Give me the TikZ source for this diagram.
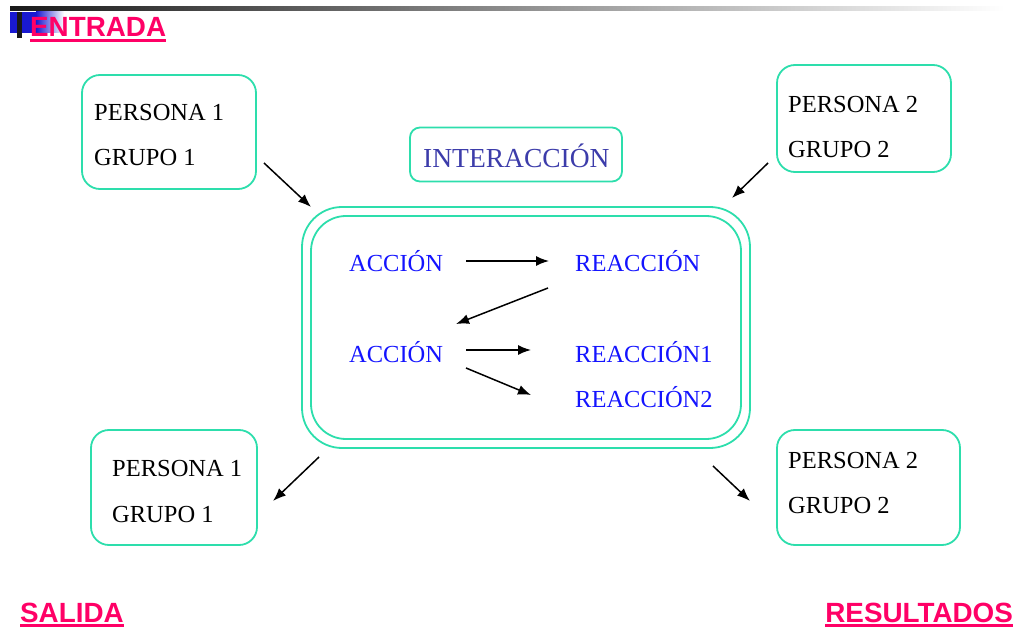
\documentclass[tikz,border=0pt]{standalone}
\usepackage{fontspec}
\setmainfont{Liberation Serif}
\newfontfamily\headfont{Liberation Sans}
\usetikzlibrary{arrows.meta}
\definecolor{teal1}{RGB}{45,222,172}
\definecolor{hred}{RGB}{255,0,102}
\definecolor{ablue}{RGB}{20,20,255}
\definecolor{iblue}{RGB}{60,60,170}
\tikzset{
  box/.style={draw=teal1, line width=1.8pt, rounded corners=18pt, inner sep=0pt},
  txt/.style={anchor=base west, inner sep=0pt, font=\fontsize{24.5}{28}\selectfont},
  btxt/.style={txt, text=ablue},
  head/.style={anchor=base west, inner sep=0pt, text=hred, font=\headfont\bfseries\fontsize{27.8}{30}\selectfont},
  uline/.style={draw=hred, line width=2.5pt},
  arr/.style={-{Latex[length=13pt,width=10pt]}, line width=1.5pt, black},
}
\begin{document}
\begin{tikzpicture}[x=1pt,y=-1pt]
\useasboundingbox (0,0) rectangle (1017,628);
% top decoration
\shade[left color=black!90, right color=white] (10,7) rectangle (1005,11);
\fill[blue!80!black!90] (10,12) rectangle (36,33);
\shade[left color=blue!80!black!90, right color=white] (36,12) rectangle (64,33);
\fill[black!90] (17,12) rectangle (22,38);

% headings
\node[head] (entrada) at (30,37) {ENTRADA};
\draw[uline] ([yshift=-3.5pt]entrada.base west) -- ([yshift=-3.5pt]entrada.base east);
\node[head] (salida) at (20,622) {SALIDA};
\draw[uline] ([yshift=-3.5pt]salida.base west) -- ([yshift=-3.5pt]salida.base east);
\node[head, anchor=base east] (result) at (1013,622) {RESULTADOS};
\draw[uline] ([yshift=-3.5pt]result.base west) -- ([yshift=-3.5pt]result.base east);

% boxes
\node[box, minimum width=174pt, minimum height=114pt] (tl) at (169,132) {};
\node[box, minimum width=174pt, minimum height=107pt] (tr) at (864,118.5) {};
\node[box, minimum width=166pt, minimum height=115pt] (bl) at (174,487.5) {};
\node[box, minimum width=183pt, minimum height=115pt] (br) at (868.5,487.5) {};
\node[box, rounded corners=10pt, minimum width=212pt, minimum height=54pt] (inter) at (516,154.5) {};
\node[box, rounded corners=40pt, minimum width=448pt, minimum height=241pt] (outer) at (526,327.5) {};
\node[box, rounded corners=35pt, minimum width=430pt, minimum height=223pt] (inner) at (526,327.5) {};

% box texts
\node[txt] (tlp) at (94,121) {PERSONA 1};
\node[txt] (tlg) at (94,166) {GRUPO 1};
\node[txt] (trp) at (788,113) {PERSONA 2};
\node[txt] (trg) at (788,158) {GRUPO 2};
\node[txt] (blp) at (112,476) {PERSONA 1};
\node[txt] (blg) at (112,522) {GRUPO 1};
\node[txt] (brp) at (788,468) {PERSONA 2};
\node[txt] (brg) at (788,513) {GRUPO 2};
\node[txt, text=iblue, font=\fontsize{27.5}{30}\selectfont] (intert) at (423,168) {INTERACCIÓN};

% inner texts
\node[btxt] (a1) at (349,272) {ACCIÓN};
\node[btxt] (r1) at (575,272) {REACCIÓN};
\node[btxt] (a2) at (349,362) {ACCIÓN};
\node[btxt] (r2) at (575,362) {REACCIÓN1};
\node[btxt] (r3) at (575,407) {REACCIÓN2};

% arrow end points
\coordinate (p1) at (264,163); \coordinate (q1) at (311,207);
\coordinate (p2) at (768,163); \coordinate (q2) at (732,198);
\coordinate (p3) at (319,457); \coordinate (q3) at (273,501);
\coordinate (p4) at (713,466); \coordinate (q4) at (750,501);
\coordinate (s1) at (466,261); \coordinate (e1) at (549,261);
\coordinate (s2) at (548,288); \coordinate (e2) at (456,324);
\coordinate (s3) at (466,350); \coordinate (e3) at (531,350);
\coordinate (s4) at (466,368); \coordinate (e4) at (531,395);

\draw[arr] (p1) -- (q1);
\draw[arr] (p2) -- (q2);
\draw[arr] (p3) -- (q3);
\draw[arr] (p4) -- (q4);
\draw[arr] (s1) -- (e1);
\draw[arr] (s2) -- (e2);
\draw[arr] (s3) -- (e3);
\draw[arr] (s4) -- (e4);
\end{tikzpicture}
\end{document}
